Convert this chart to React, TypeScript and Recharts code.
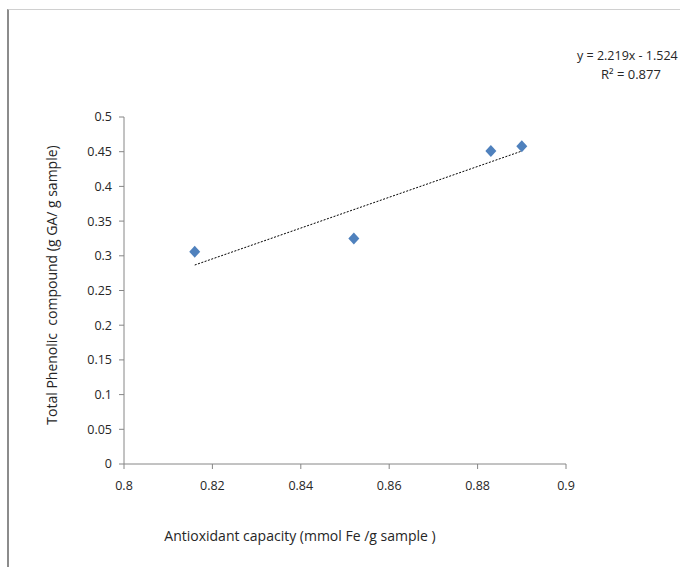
import React from "react";
import { ScatterChart, Scatter, XAxis, YAxis, ReferenceLine } from "recharts";

const antioxidant = [0.816, 0.852, 0.883, 0.89];
const phenolic = [0.306, 0.325, 0.451, 0.458];
const xTicks = [0.8, 0.82, 0.84, 0.86, 0.88, 0.9];
const yTicks = [0, 0.05, 0.1, 0.15, 0.2, 0.25, 0.3, 0.35, 0.4, 0.45, 0.5];
const slope = 2.219;
const intercept = -1.524;
const rSquared = 0.877;
const trendX = [0.816, 0.89];

const points = antioxidant.map((x, i) => ({ x, y: phenolic[i] }));
const trend = trendX.map((x) => ({ x, y: slope * x + intercept }));

const FONT = "'Open Sans', 'Liberation Sans', sans-serif";
const TEXT = "#262626";

const Diamond = (props: any) => {
  const { cx, cy } = props;
  if (cx == null || cy == null) return null;
  const w = 5.5;
  const h = 6;
  return (
    <polygon
      points={`${cx},${cy - h} ${cx + w},${cy} ${cx},${cy + h} ${cx - w},${cy}`}
      fill="#4F81BD"
    />
  );
};

export default function App() {
  return (
    <div
      style={{
        position: "absolute",
        left: 0,
        top: 0,
        width: 680,
        height: 567,
        background: "#fff",
        overflow: "hidden",
        fontFamily: FONT,
      }}
    >
      <div
        style={{
          position: "absolute",
          left: 7,
          top: 9,
          width: 680,
          height: 600,
          borderTop: "1px solid #d0d0d0",
          borderLeft: "2px solid #8c8c8c",
        }}
      />
      <ScatterChart
        width={680}
        height={567}
        margin={{ top: 117, right: 114, bottom: 73, left: 64 }}
        style={{ position: "absolute", left: 0, top: 0 }}
      >
        <XAxis
          type="number"
          dataKey="x"
          domain={[0.8, 0.9]}
          ticks={xTicks}
          height={30}
          tickSize={5}
          tickMargin={12}
          stroke="#868686"
          tick={{ fill: TEXT, fontSize: 12.5, fontFamily: FONT }}
          tickFormatter={(v: number) => String(v)}
          allowDataOverflow
        />
        <YAxis
          type="number"
          dataKey="y"
          domain={[0, 0.5]}
          ticks={yTicks}
          width={60}
          tickSize={5}
          tickMargin={7}
          stroke="#868686"
          tick={{ fill: TEXT, fontSize: 12.5, fontFamily: FONT }}
          tickFormatter={(v: number) => String(v)}
          allowDataOverflow
        />
        <ReferenceLine
          segment={[trend[0], trend[1]]}
          stroke="#000"
          strokeWidth={1}
          strokeDasharray="2 1.5"
        />
        <Scatter data={points} shape={<Diamond />} isAnimationActive={false} />
      </ScatterChart>
      <div
        style={{
          position: "absolute",
          left: 577,
          top: 47,
          fontSize: 12.5,
          color: TEXT,
          whiteSpace: "nowrap",
          lineHeight: "18px",
        }}
      >
        y = {slope}x - {Math.abs(intercept)}
      </div>
      <div
        style={{
          position: "absolute",
          left: 601,
          top: 65,
          fontSize: 13,
          color: TEXT,
          whiteSpace: "nowrap",
          lineHeight: "18px",
        }}
      >
        R² = {rSquared}
      </div>
      <div
        style={{
          position: "absolute",
          left: 300,
          top: 535,
          transform: "translate(-50%, -50%)",
          fontSize: 14,
          color: TEXT,
          whiteSpace: "nowrap",
        }}
      >
        Antioxidant capacity (mmol Fe /g sample )
      </div>
      <div
        style={{
          position: "absolute",
          left: 51,
          top: 285,
          transform: "translate(-50%, -50%) rotate(-90deg)",
          fontSize: 14,
          color: TEXT,
          whiteSpace: "pre",
        }}
      >
        Total Phenolic  compound (g GA/ g sample)
      </div>
    </div>
  );
}
